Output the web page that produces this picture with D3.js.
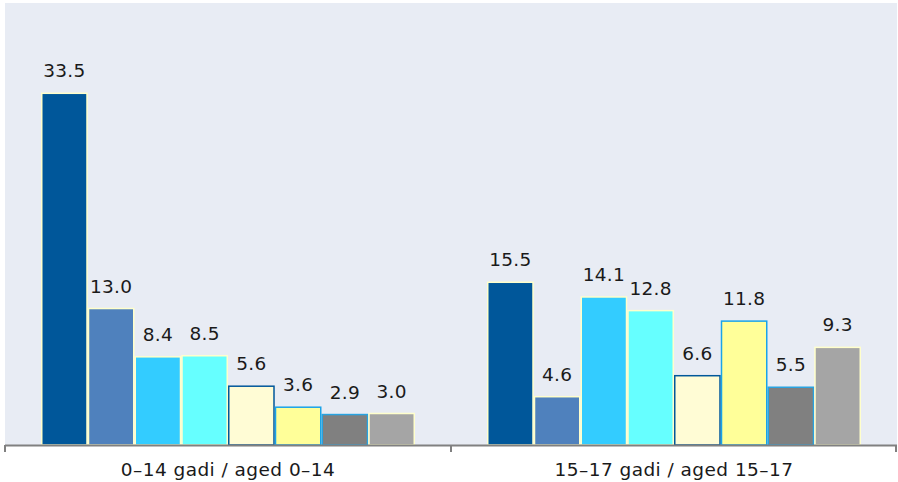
<!DOCTYPE html>
<html>
<head>
<meta charset="utf-8">
<script src="https://cdn.jsdelivr.net/npm/d3@7"></script>
<style>
  html, body { margin: 0; padding: 0; background: #ffffff; }
  svg { display: block; }
  text { font-family: "DejaVu Sans", Verdana, sans-serif; fill: #1a1a1a; }
</style>
</head>
<body>
<svg id="chart" width="898" height="482"></svg>
<script>
const categories = ["0\u201314 gadi / aged 0\u201314", "15\u201317 gadi / aged 15\u201317"];
const seriesNames = ["S1", "S2", "S3", "S4", "S5", "S6", "S7", "S8"];
const group1Values = [33.5, 13.0, 8.4, 8.5, 5.6, 3.6, 2.9, 3.0];
const group2Values = [15.5, 4.6, 14.1, 12.8, 6.6, 11.8, 5.5, 9.3];
const fillColors = ["#00579A", "#4F81BD", "#33CCFF", "#66FFFF", "#FFFCD5", "#FFFF99", "#808080", "#A5A5A5"];
const strokeColors = ["#FFFFCC", "#FFFFCC", "#FFFFCC", "#FFFFCC", "#00579A", "#1AA3E8", "#29A3E0", "#FFFFCC"];

const valuesByCategory = [group1Values, group2Values];
const data = [];
categories.forEach((c, ci) => {
  seriesNames.forEach((s, si) => {
    data.push({ category: c, series: s, si: si, value: valuesByCategory[ci][si] });
  });
});

const svg = d3.select("#chart");
const plot = { left: 5, right: 897, top: 3, bottom: 445 };

svg.append("rect")
  .attr("x", plot.left).attr("y", plot.top)
  .attr("width", plot.right - plot.left).attr("height", plot.bottom - plot.top)
  .attr("fill", "#E8ECF4");

const x0 = d3.scaleBand().domain(categories).range([plot.left, plot.right]).padding(0);
const x1 = d3.scaleBand().domain(seriesNames)
  .range([36, x0.bandwidth() - 36]).padding(0);
const y = d3.scaleLinear().domain([0, 42.1]).range([plot.bottom, plot.top]);

const bars = svg.append("g");
bars.selectAll("rect").data(data).join("rect")
  .attr("x", d => x0(d.category) + x1(d.series) + 0.75)
  .attr("y", d => y(d.value))
  .attr("width", x1.bandwidth() - 1.5)
  .attr("height", d => y(0) - y(d.value))
  .attr("fill", d => fillColors[d.si])
  .attr("stroke", d => strokeColors[d.si])
  .attr("stroke-width", 1.5);

svg.append("g").selectAll("text").data(data).join("text")
  .attr("x", d => x0(d.category) + x1(d.series) + x1.bandwidth() / 2)
  .attr("y", d => y(d.value) - 16)
  .attr("text-anchor", "middle")
  .attr("font-size", 18.5)
  .attr("letter-spacing", 0.3)
  .text(d => d.value.toFixed(1));

const axisG = svg.append("g").attr("transform", `translate(0,${plot.bottom})`);
axisG.append("line")
  .attr("x1", plot.left).attr("x2", plot.right)
  .attr("y1", 0.5).attr("y2", 0.5)
  .attr("stroke", "#808080").attr("stroke-width", 2);
const boundaries = [plot.left].concat(categories.map(c => x0(c) + x0.bandwidth()));
axisG.selectAll(".tk").data(boundaries).join("line")
  .attr("class", "tk")
  .attr("x1", d => Math.min(d, plot.right - 1)).attr("x2", d => Math.min(d, plot.right - 1))
  .attr("y1", 0).attr("y2", 7)
  .attr("stroke", "#808080").attr("stroke-width", 2);
axisG.selectAll(".lbl").data(categories).join("text")
  .attr("class", "lbl")
  .attr("x", d => x0(d) + x0.bandwidth() / 2)
  .attr("y", 31)
  .attr("text-anchor", "middle")
  .attr("font-size", 18.5)
  .attr("letter-spacing", 0.45)
  .text(d => d);
</script>
</body>
</html>
